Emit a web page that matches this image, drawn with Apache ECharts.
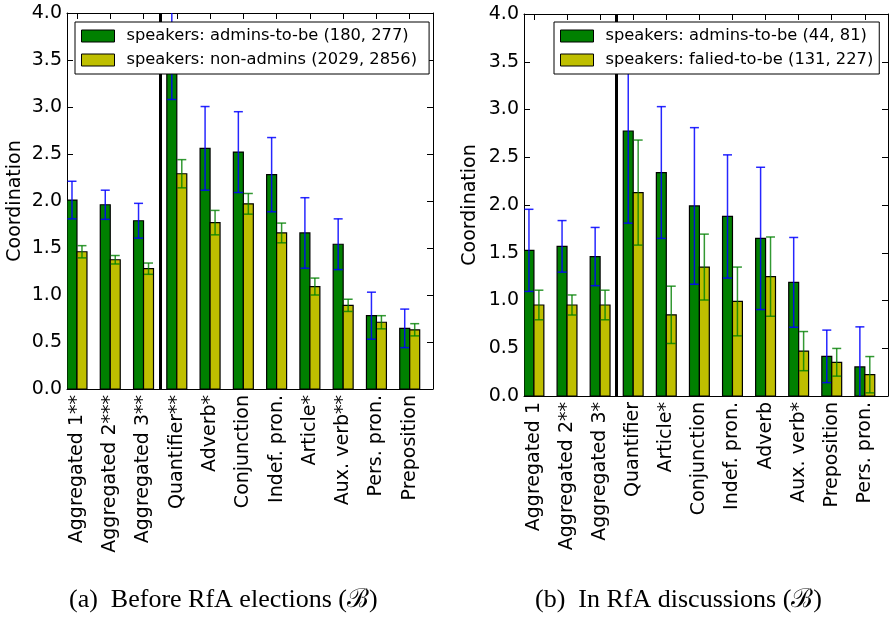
<!DOCTYPE html>
<html>
<head>
<meta charset="utf-8">
<script src="https://cdn.jsdelivr.net/npm/echarts@6/dist/echarts.min.js"></script>
<style>
  html, body { margin: 0; padding: 0; background: #fff; }
  #chart { width: 890px; height: 617px; }
</style>
</head>
<body>
<div id="chart"></div>
<script>
// (a) Before RfA elections
const catsA = ['Aggregated 1**', 'Aggregated 2***', 'Aggregated 3**', 'Quantifier**', 'Adverb*',
  'Conjunction', 'Indef. pron.', 'Article*', 'Aux. verb**', 'Pers. pron.', 'Preposition'];
const adminsA = [2.01, 1.96, 1.79, 3.65, 2.56, 2.52, 2.28, 1.66, 1.54, 0.78, 0.645];
const adminsAErr = [0.20, 0.155, 0.185, 0.57, 0.445, 0.43, 0.395, 0.375, 0.27, 0.25, 0.205];
const nonAdminsA = [1.46, 1.375, 1.28, 2.29, 1.77, 1.97, 1.66, 1.09, 0.89, 0.71, 0.63];
const nonAdminsAErr = [0.065, 0.045, 0.06, 0.15, 0.13, 0.11, 0.105, 0.09, 0.065, 0.07, 0.065];

// (b) In RfA discussions
const catsB = ['Aggregated 1', 'Aggregated 2**', 'Aggregated 3*', 'Quantifier', 'Article*',
  'Conjunction', 'Indef. pron.', 'Adverb', 'Aux. verb*', 'Preposition', 'Pers. pron.'];
const adminsB = [1.525, 1.567, 1.46, 2.775, 2.34, 1.99, 1.88, 1.65, 1.19, 0.415, 0.304];
const adminsBErr = [0.43, 0.27, 0.305, 0.965, 0.69, 0.82, 0.645, 0.745, 0.47, 0.275, 0.42];
const failedB = [0.953, 0.953, 0.953, 2.13, 0.85, 1.35, 0.99, 1.25, 0.47, 0.353, 0.223];
const failedBErr = [0.155, 0.105, 0.155, 0.55, 0.3, 0.345, 0.36, 0.415, 0.205, 0.145, 0.19];

const namesA = ['speakers: admins-to-be (180, 277)', 'speakers: non-admins (2029, 2856)'];
const namesB = ['speakers: admins-to-be (44, 81)', 'speakers: falied-to-be (131, 227)'];
const separatorAt = 2.8; // boundary between aggregated and single-category groups
const captionA = '(a)\u2002Before RfA elections (\u212C)';
const captionB = '(b)\u2002In RfA discussions (\u212C)';

const BAR_W = 0.3;         // bar width in category units
const GREEN = '#008000';
const OLIVE = '#bfbf00';
const FONT = '"DejaVu Sans", sans-serif';

const tickPos = catsA.map((_, i) => i + BAR_W);

function barErrorSeries(name, gridIdx, values, errs, offset, fill, errColor, withSeparator) {
  const s = {
    type: 'custom',
    name: name,
    xAxisIndex: gridIdx * 2,
    yAxisIndex: gridIdx * 2,
    clip: true,
    silent: true,
    data: values.map((v, i) => [i + offset, v, errs[i]]),
    encode: { x: 0, y: 1 },
    itemStyle: { color: fill },
    renderItem: function (params, api) {
      const x0 = api.value(0), v = api.value(1), e = api.value(2);
      const p0 = api.coord([x0, 0]);
      const p1 = api.coord([x0 + BAR_W, v]);
      const cx = api.coord([x0 + BAR_W / 2, 0])[0];
      const yt = api.coord([x0, v + e])[1];
      const yb = api.coord([x0, v - e])[1];
      const cap = 4.5;
      const eStyle = { stroke: errColor, lineWidth: 1.5, fill: null };
      return {
        type: 'group',
        children: [
          { type: 'rect', shape: { x: p0[0], y: p1[1], width: p1[0] - p0[0], height: p0[1] - p1[1] },
            style: { fill: fill, stroke: '#000', lineWidth: 1.2 } },
          { type: 'line', shape: { x1: cx, y1: yt, x2: cx, y2: yb }, style: eStyle },
          { type: 'line', shape: { x1: cx - cap, y1: yt, x2: cx + cap, y2: yt }, style: eStyle },
          { type: 'line', shape: { x1: cx - cap, y1: yb, x2: cx + cap, y2: yb }, style: eStyle }
        ]
      };
    }
  };
  if (withSeparator) {
    s.markLine = {
      silent: true, symbol: 'none', animation: false,
      label: { show: false },
      lineStyle: { color: '#000', width: 3, type: 'solid' },
      emphasis: { disabled: true },
      data: [{ xAxis: separatorAt }]
    };
  }
  return s;
}

function xAxes(gridIdx, cats) {
  return [
    {
      type: 'value', gridIndex: gridIdx, min: 0, max: 11, position: 'bottom',
      axisLine: { show: true, onZero: false, lineStyle: { color: '#000', width: 1 } },
      axisTick: { show: true, inside: true, length: 6, customValues: tickPos, lineStyle: { color: '#000' } },
      axisLabel: {
        show: true, customValues: tickPos, rotate: 90, margin: 6,
        fontSize: 19, fontFamily: FONT, color: '#000',
        formatter: v => cats[Math.round(v - BAR_W)]
      },
      splitLine: { show: false }
    },
    {
      type: 'value', gridIndex: gridIdx, min: 0, max: 11, position: 'top',
      axisLine: { show: true, onZero: false, lineStyle: { color: '#000', width: 1 } },
      axisTick: { show: true, inside: true, length: 6, customValues: tickPos, lineStyle: { color: '#000' } },
      axisLabel: { show: false },
      splitLine: { show: false }
    }
  ];
}

function yAxes(gridIdx, nameGap) {
  return [
    {
      type: 'value', gridIndex: gridIdx, min: 0, max: 4, interval: 0.5, position: 'left',
      name: 'Coordination', nameLocation: 'middle', nameGap: nameGap, nameRotate: 90,
      nameTextStyle: { fontSize: 19, fontFamily: FONT, color: '#000' },
      axisLine: { show: true, onZero: false, lineStyle: { color: '#000', width: 1 } },
      axisTick: { show: true, inside: true, length: 6, lineStyle: { color: '#000' } },
      axisLabel: { show: true, margin: 5, fontSize: 19, fontFamily: FONT, color: '#000',
        formatter: v => v.toFixed(1) },
      splitLine: { show: false }
    },
    {
      type: 'value', gridIndex: gridIdx, min: 0, max: 4, interval: 0.5, position: 'right',
      axisLine: { show: true, onZero: false, lineStyle: { color: '#000', width: 1 } },
      axisTick: { show: true, inside: true, length: 6, lineStyle: { color: '#000' } },
      axisLabel: { show: false },
      splitLine: { show: false }
    }
  ];
}

function legend(names, left, top, padRight) {
  return {
    orient: 'vertical', left: left, top: top,
    backgroundColor: '#fff', borderColor: '#000', borderWidth: 1, borderRadius: 0,
    padding: [5, padRight, 5, 6],
    itemWidth: 33, itemHeight: 12, itemGap: 6,
    selectedMode: false,
    textStyle: { fontSize: 16.3, fontFamily: FONT, color: '#000', lineHeight: 18, padding: [0, 0, 0, 7] },
    data: [
      { name: names[0], icon: 'rect', itemStyle: { color: GREEN, borderColor: '#000', borderWidth: 1 } },
      { name: names[1], icon: 'rect', itemStyle: { color: OLIVE, borderColor: '#000', borderWidth: 1 } }
    ],
    z: 10
  };
}

const chart = echarts.init(document.getElementById('chart'), null, { renderer: 'canvas' });
chart.setOption({
  animation: false,
  backgroundColor: '#fff',
  grid: [
    { left: 67, top: 13, width: 366, height: 376 },
    { left: 524, top: 14, width: 364, height: 382 }
  ],
  xAxis: [...xAxes(0, catsA), ...xAxes(1, catsB)],
  yAxis: [...yAxes(0, 42), ...yAxes(1, 44)],
  legend: [legend(namesA, 75, 22, 12), legend(namesB, 554, 22, 6)],
  series: [
    barErrorSeries(namesA[0], 0, adminsA, adminsAErr, 0, GREEN, 'rgba(0,0,255,0.85)', true),
    barErrorSeries(namesA[1], 0, nonAdminsA, nonAdminsAErr, BAR_W, OLIVE, 'rgba(0,128,0,0.8)', false),
    barErrorSeries(namesB[0], 1, adminsB, adminsBErr, 0, GREEN, 'rgba(0,0,255,0.85)', true),
    barErrorSeries(namesB[1], 1, failedB, failedBErr, BAR_W, OLIVE, 'rgba(0,128,0,0.8)', false)
  ],
  graphic: [
    { type: 'text', left: 69, top: 587, style: { text: captionA, font: '26px "Liberation Serif", serif', fill: '#000' } },
    { type: 'text', left: 535, top: 587, style: { text: captionB, font: '26px "Liberation Serif", serif', fill: '#000' } }
  ]
});
</script>
</body>
</html>
